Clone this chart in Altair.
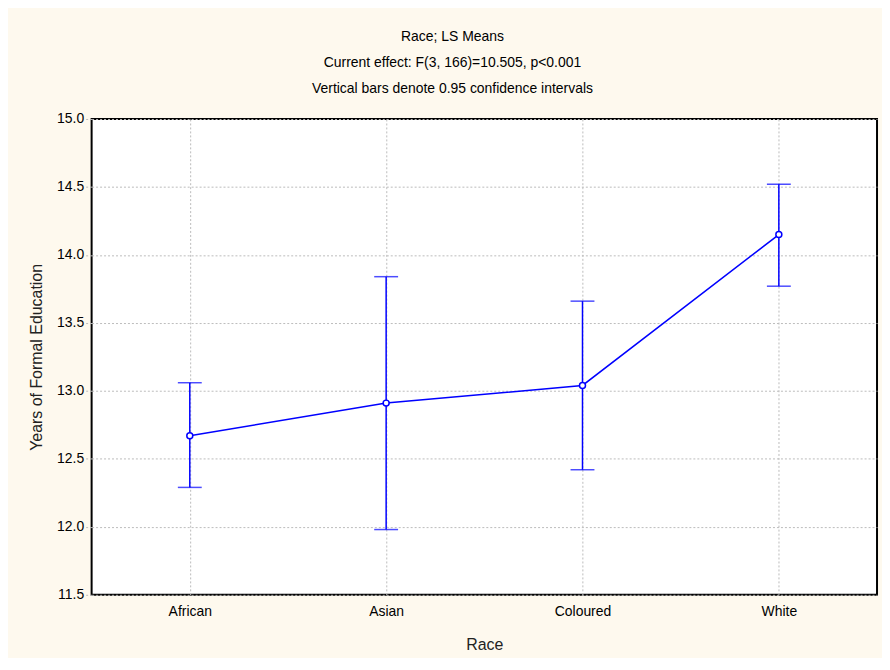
import altair as alt
import pandas as pd

races = ["African", "Asian", "Coloured", "White"]
means = [12.67, 12.91, 13.04, 14.15]
lower = [12.29, 11.98, 12.42, 13.77]
upper = [13.06, 13.84, 13.66, 14.52]
y_ticks = [11.5, 12.0, 12.5, 13.0, 13.5, 14.0, 14.5, 15.0]

df = pd.DataFrame({"Race": races, "mean": means, "lo": lower, "hi": upper})

FONT = "Liberation Sans"
BLUE = "#0000FF"

x = alt.X("Race:N", sort=races, scale=alt.Scale(type="point", padding=0.5),
          axis=alt.Axis(title="Race", labelAngle=0, labelFontSize=14, labelFont=FONT,
                        labelColor="black", labelPadding=10, titleFontSize=16,
                        titleFont=FONT, titleFontWeight="normal", titleColor="#222",
                        titlePadding=18, grid=True, gridColor="#bbbbbb",
                        gridDash=[2, 2], tickSize=0, domain=False))
y_scale = alt.Scale(domain=[11.5, 15.0], nice=False, zero=False)
y_axis = alt.Axis(title="Years of Formal Education", values=y_ticks, format=".1f",
                  labelFontSize=14, labelFont=FONT, labelColor="black", labelPadding=2,
                  titleFontSize=16, titleFont=FONT, titleFontWeight="normal",
                  titleColor="#222", titlePadding=12, grid=True, gridColor="#bbbbbb",
                  gridDash=[2, 2], tickSize=6, tickColor="#bbbbbb", tickDash=[2, 2],
                  domain=False)

base = alt.Chart(df)

line = base.mark_line(color=BLUE, strokeWidth=1.5).encode(
    x=x, y=alt.Y("mean:Q", scale=y_scale, axis=y_axis))
rules = base.mark_rule(color=BLUE, strokeWidth=1.5).encode(
    x=x, y=alt.Y("lo:Q", scale=y_scale), y2="hi:Q")
cap_lo = base.mark_tick(color=BLUE, thickness=1.5, size=24).encode(
    x=x, y=alt.Y("lo:Q", scale=y_scale))
cap_hi = base.mark_tick(color=BLUE, thickness=1.5, size=24).encode(
    x=x, y=alt.Y("hi:Q", scale=y_scale))
points = base.mark_point(shape="circle", filled=False, color=BLUE, fill="white",
                         fillOpacity=1, size=36, strokeWidth=1.5).encode(
    x=x, y=alt.Y("mean:Q", scale=y_scale))

chart = alt.layer(line, rules, cap_lo, cap_hi, points).properties(
    width=789, height=478,
    autosize=alt.AutoSizeParams(type="none"),
    padding={"left": 84, "top": 110, "right": 5, "bottom": 62},
    background="#FEF9EE",
    title=alt.TitleParams(
        text="Race; LS Means",
        subtitle=["Current effect: F(3, 166)=10.505, p<0.001",
                  "Vertical bars denote 0.95 confidence intervals"],
        font=FONT, fontSize=14, fontWeight="normal", color="black",
        subtitleFont=FONT, subtitleFontSize=14, subtitleColor="black",
        subtitleLineHeight=26, subtitlePadding=12, anchor="middle", dx=-32, offset=16),
).configure_view(stroke="black", strokeWidth=2, fill="white")

chart.save("out.html", embed_options={"renderer": "svg", "actions": False})
